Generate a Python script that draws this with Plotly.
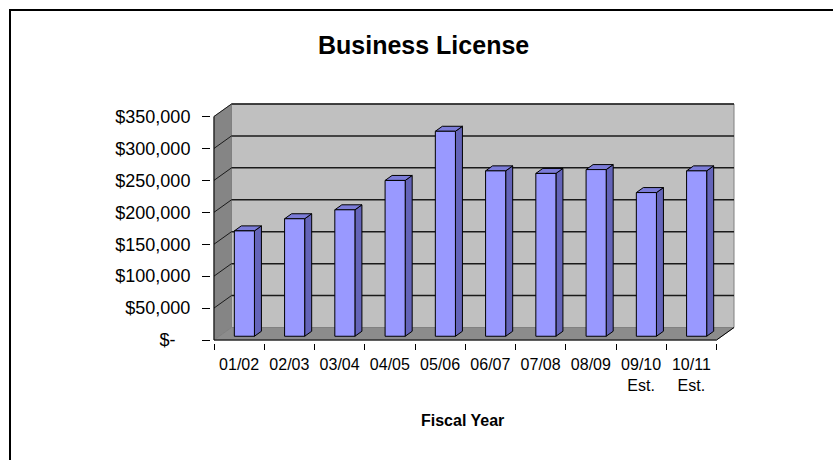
import plotly.graph_objects as go

# ---- data -------------------------------------------------------------
fiscal_years = ["01/02", "02/03", "03/04", "04/05", "05/06",
                "06/07", "07/08", "08/09", "09/10\nEst.", "10/11\nEst."]
revenue = [165000, 184000, 198000, 244000, 321000,
           259000, 255000, 261000, 225000, 259000]
y_tick_values = [0, 50000, 100000, 150000, 200000, 250000, 300000, 350000]
y_tick_labels = ["$-", "$50,000", "$100,000", "$150,000", "$200,000",
                 "$250,000", "$300,000", "$350,000"]
y_max = 350000

# ---- geometry of the oblique 3-D box -----------------------------------
W, H = 833, 460
PX_PER_CAT = 50.25               # px per category on the front plane
PX_PER_USD = 223.5 / y_max       # px per dollar
FRONT_LEFT, FRONT_BOTTOM = 214, 340
PLOT_L, PLOT_R, PLOT_T, PLOT_B = 211, 737, 102, 343

DX = 17.5 / PX_PER_CAT           # depth shift, x units
DY = 12.5 / PX_PER_USD           # depth shift, y units

x_range = [(PLOT_L - FRONT_LEFT) / PX_PER_CAT, (PLOT_R - FRONT_LEFT) / PX_PER_CAT]
y_range = [(FRONT_BOTTOM - PLOT_B) / PX_PER_USD, (FRONT_BOTTOM - PLOT_T) / PX_PER_USD]

n = len(revenue)
BAR_W = 0.4        # bar width as fraction of category
D0, D1 = 0.3, 0.7  # bar depth span (fraction of box depth)

FONT = "Liberation Sans, Arial, sans-serif"


def px_to_paper(px, py):
    return ((px - PLOT_L) / (PLOT_R - PLOT_L), (PLOT_B - py) / (PLOT_B - PLOT_T))


fig = go.Figure()

# ---- bars: front, side and top faces ------------------------------------
front_x, front_y, side_x, side_y, top_x, top_y = [], [], [], [], [], []
for i, v in enumerate(revenue):
    x0 = i + 0.5 - BAR_W / 2 + D0 * DX
    x1 = x0 + BAR_W
    y0 = D0 * DY
    sx = (D1 - D0) * DX
    sy = (D1 - D0) * DY
    front_x += [x0, x1, x1, x0, x0, None]
    front_y += [y0, y0, v + y0, v + y0, y0, None]
    side_x += [x1, x1 + sx, x1 + sx, x1, x1, None]
    side_y += [y0, y0 + sy, v + y0 + sy, v + y0, y0, None]
    top_x += [x0, x1, x1 + sx, x0 + sx, x0, None]
    top_y += [v + y0, v + y0, v + y0 + sy, v + y0 + sy, v + y0, None]

for xs, ys, col in [(side_x, side_y, "#6464B9"),
                    (top_x, top_y, "#7C7CD8"),
                    (front_x, front_y, "#9999FF")]:
    fig.add_trace(go.Scatter(x=xs, y=ys, mode="lines", fill="toself",
                             fillcolor=col, line=dict(color="#000000", width=1),
                             hoverinfo="skip", showlegend=False))

# ---- walls, floor and gridlines ----------------------------------------
shapes = []
# back wall
shapes.append(dict(type="rect", xref="x", yref="y", layer="below",
                   x0=DX, x1=n + DX, y0=DY, y1=y_max + DY,
                   fillcolor="#C0C0C0", line=dict(color="#808080", width=1)))
# side wall
shapes.append(dict(type="path", xref="x", yref="y", layer="below",
                   path=f"M0,0 L{DX},{DY} L{DX},{y_max + DY} L0,{y_max} Z",
                   fillcolor="#858585", line=dict(color="#808080", width=1)))
# floor
shapes.append(dict(type="path", xref="x", yref="y", layer="below",
                   path=f"M0,0 L{n},0 L{n + DX},{DY} L{DX},{DY} Z",
                   fillcolor="#8C8C8C", line=dict(color="#808080", width=1)))
# gridlines on back and side walls
for v in y_tick_values:
    if v > 0:
        shapes.append(dict(type="line", xref="x", yref="y", layer="below",
                           x0=DX, x1=n + DX, y0=v + DY, y1=v + DY,
                           line=dict(color="#1a1a1a", width=1.5)))
        shapes.append(dict(type="line", xref="x", yref="y", layer="below",
                           x0=0, x1=DX, y0=v, y1=v + DY,
                           line=dict(color="#1a1a1a", width=1)))
fig.update_layout(shapes=shapes)

# axis lines of the front plane
fig.add_trace(go.Scatter(x=[0, 0, n, n + DX], y=[y_max, 0, 0, DY], mode="lines",
                         line=dict(color="#000000", width=1),
                         hoverinfo="skip", showlegend=False))

# chart frame
fx0, fy0 = px_to_paper(10, 10)
fx1, fy1 = px_to_paper(W + 50, H + 50)
fig.add_shape(type="rect", xref="paper", yref="paper", layer="above",
              x0=fx0, y0=fy1, x1=fx1, y1=fy0,
              line=dict(color="#000000", width=2), fillcolor="rgba(0,0,0,0)")

# ---- titles --------------------------------------------------------------
tx, ty = px_to_paper(423, 45)
fig.add_annotation(x=tx, y=ty, xref="paper", yref="paper", showarrow=False,
                   text="<b>Business License</b>", xanchor="center", yanchor="middle",
                   font=dict(family=FONT, size=25, color="#000000"))
ax, ay = px_to_paper(462, 420)
fig.add_annotation(x=ax, y=ay, xref="paper", yref="paper", showarrow=False,
                   text="<b>Fiscal Year</b>", xanchor="center", yanchor="middle",
                   font=dict(family=FONT, size=16, color="#000000"))

# ---- axes ----------------------------------------------------------------
tick_text = [t + "\u00a0\u00a0\u00a0" if t == "$-" else t for t in y_tick_labels]

fig.update_xaxes(range=x_range, showgrid=False, zeroline=False, showline=False,
                 tickmode="array", tickvals=[i + 0.5 for i in range(n)],
                 ticktext=[c.replace("\n", "<br>") for c in fiscal_years],
                 ticks="", ticklabelstandoff=10,
                 tickfont=dict(family=FONT, size=16, color="#000000"),
                 minor=dict(tickmode="array", tickvals=list(range(n + 1)),
                            ticks="outside", ticklen=6, tickcolor="#000000",
                            showgrid=False))
fig.update_yaxes(range=y_range, showgrid=False, zeroline=False, showline=False,
                 tickmode="array", tickvals=y_tick_values, ticktext=tick_text,
                 ticks="outside", ticklen=8, tickcolor="#000000",
                 ticklabelstandoff=8,
                 tickfont=dict(family=FONT, size=18, color="#000000"))

fig.update_layout(width=W, height=H, autosize=False,
                  margin=dict(l=PLOT_L, r=W - PLOT_R, t=PLOT_T, b=H - PLOT_B, pad=0),
                  paper_bgcolor="#FFFFFF", plot_bgcolor="#FFFFFF",
                  showlegend=False)

fig.write_html("out.html")
